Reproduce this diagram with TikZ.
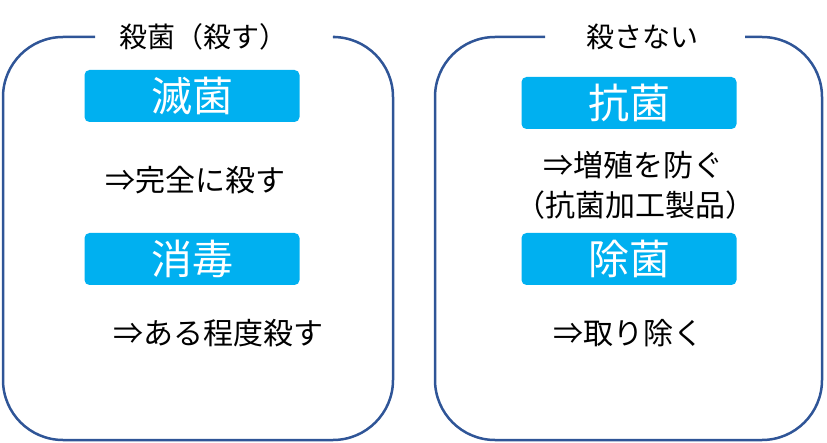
\documentclass[tikz,border=0pt]{standalone}
\usepackage{fontspec}
\setmainfont{Noto Sans CJK JP}
\usetikzlibrary{positioning}
\definecolor{frameblue}{HTML}{2F5597}
\definecolor{tagcyan}{HTML}{00B0F0}
\tikzset{
    frame/.style={draw=frameblue, line width=2.5pt, rounded corners=60pt},
    tag/.style={fill=tagcyan, rounded corners=5pt, minimum width=215pt, minimum height=52pt,
        text=white, font=\fontsize{41}{44}\selectfont, inner sep=0pt},
    note/.style={font=\fontsize{30}{34}\selectfont, inner sep=0pt},
    head/.style={font=\fontsize{28}{32}\selectfont, inner sep=0pt}
}
\begin{document}
\begin{tikzpicture}[x=1pt, y=-1pt]
    \useasboundingbox (0,0) rectangle (827,443);

    % left frame
    \coordinate (lgapL) at (95,37);
    \coordinate (lgapR) at (335,37);
    \draw[frame] (lgapR) -- (393,37) -- (393,440) -- (3,440) -- (3,37) -- (lgapL);
    \node[head] (killT) at (203,37) {殺菌（殺す）};

    % right frame
    \coordinate (rgapL) at (545,37);
    \coordinate (rgapR) at (745,37);
    \draw[frame] (rgapR) -- (822,37) -- (822,440) -- (435,440) -- (435,37) -- (rgapL);
    \node[head] (nokillT) at (642,37) {殺さない};

    \node[tag] (steril) at (192,96) {滅菌};
    \node[note] (sterilN) at (195,180) {⇒完全に殺す};
    \node[tag] (disinf) at (192,259) {消毒};
    \node[note] (disinfN) at (218,333) {⇒ある程度殺す};

    \node[tag] (antib) at (629,103) {抗菌};
    \node[note] (antibN) at (633,165) {⇒増殖を防ぐ};
    \node[note] (antibP) at (635,205) {（抗菌加工製品）};
    \node[tag] (remov) at (629,259) {除菌};
    \node[note] (removN) at (628,333) {⇒取り除く};
\end{tikzpicture}
\end{document}
